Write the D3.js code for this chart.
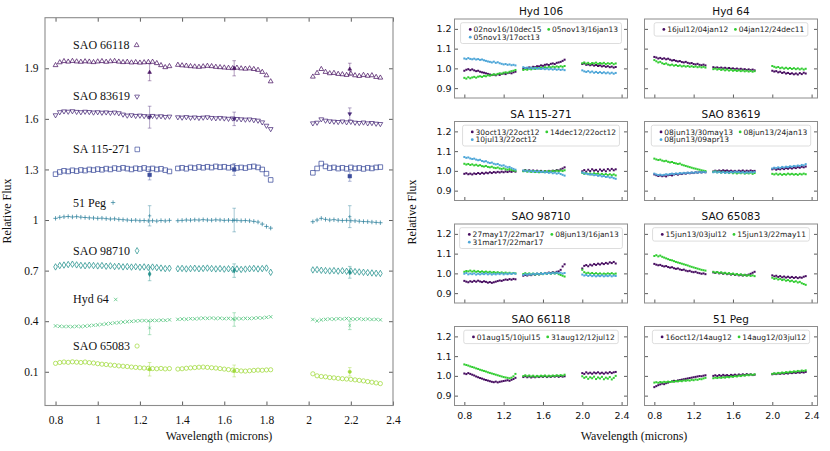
<!DOCTYPE html>
<html>
<head>
<meta charset="utf-8">
<script src="https://cdn.jsdelivr.net/npm/d3@7"></script>
<style>
  body { margin: 0; background: #fff; }
  svg { display: block; }
  .serif { font-family: "Liberation Serif", "Times New Roman", "DejaVu Serif", serif; }
  .sans { font-family: "DejaVu Sans", Verdana, sans-serif; }
</style>
</head>
<body>
<svg width="830" height="451"></svg>
<script>
// ---------- left panel: offset spectra ----------
var waveLeft = [
  0.80,0.82,0.84,0.86,0.88,0.90,0.92,0.94,0.96,0.98,1.00,1.02,1.04,1.06,1.08,1.10,1.12,1.14,1.16,1.18,1.20,1.22,1.24,1.26,1.28,1.30,1.32,1.34,
  1.38,1.40,1.42,1.44,1.46,1.48,1.50,1.52,1.54,1.56,1.58,1.60,1.62,1.64,1.66,1.68,1.70,1.72,1.74,1.76,1.78,1.80,1.82,
  2.02,2.04,2.06,2.08,2.10,2.12,2.14,2.16,2.18,2.20,2.22,2.24,2.26,2.28,2.30,2.32,2.34
];
var starNames = ["SAO 66118", "SAO 83619", "SA 115-271", "51 Peg", "SAO 98710", "Hyd 64", "SAO 65083"];
var labelFlux = [2.013, 1.709, 1.395, 1.08, 0.794, 0.505, 0.229];
var labelWave = 0.883;

var fluxSAO66118 = [1.918,1.935,1.942,1.939,1.943,1.940,1.938,1.941,1.939,1.936,1.940,1.942,1.938,1.941,1.943,1.939,1.936,1.938,1.934,1.936,1.933,1.935,1.937,1.938,1.930,1.918,1.906,1.912,
  1.920,1.917,1.915,1.912,1.910,1.908,1.911,1.914,1.912,1.908,1.906,1.904,1.902,1.900,1.903,1.899,1.897,1.899,1.895,1.890,1.878,1.858,1.822,
  1.850,1.872,1.895,1.878,1.870,1.872,1.866,1.864,1.860,1.868,1.858,1.854,1.860,1.855,1.858,1.848,1.844];
var fluxSAO83619 = [1.622,1.640,1.645,1.643,1.646,1.642,1.640,1.643,1.641,1.638,1.640,1.637,1.639,1.636,1.638,1.634,1.626,1.620,1.622,1.618,1.620,1.617,1.615,1.618,1.614,1.616,1.612,1.614,
  1.610,1.608,1.611,1.607,1.609,1.606,1.608,1.610,1.606,1.604,1.606,1.603,1.601,1.603,1.600,1.598,1.596,1.597,1.593,1.590,1.580,1.560,1.540,
  1.574,1.578,1.598,1.590,1.586,1.584,1.582,1.585,1.580,1.583,1.578,1.576,1.579,1.574,1.576,1.572,1.570];
var fluxSA115 = [1.272,1.285,1.292,1.288,1.295,1.290,1.297,1.293,1.300,1.296,1.302,1.298,1.305,1.300,1.308,1.303,1.310,1.305,1.300,1.307,1.303,1.309,1.302,1.306,1.300,1.304,1.296,1.288,
  1.306,1.310,1.304,1.312,1.308,1.315,1.310,1.316,1.311,1.318,1.313,1.316,1.310,1.314,1.309,1.312,1.308,1.315,1.318,1.312,1.300,1.275,1.238,
  1.280,1.306,1.335,1.318,1.308,1.312,1.305,1.310,1.304,1.312,1.306,1.309,1.303,1.310,1.306,1.312,1.314];
var flux51Peg = [1.010,1.016,1.019,1.021,1.018,1.020,1.017,1.015,1.013,1.012,1.010,1.011,1.008,1.006,1.007,1.004,1.002,1.000,0.998,0.999,0.996,0.997,0.995,0.996,0.994,0.997,0.995,0.998,
  0.996,0.998,1.000,0.999,1.001,1.000,1.002,1.000,0.999,1.001,1.000,0.998,0.999,0.997,0.998,0.996,0.997,0.995,0.992,0.988,0.976,0.962,0.952,
  0.990,1.000,1.010,1.004,1.000,1.002,0.999,0.997,0.998,0.996,0.995,0.993,0.991,0.990,0.988,0.986,0.984];
var fluxSAO98710 = [0.722,0.730,0.733,0.736,0.738,0.734,0.731,0.729,0.732,0.730,0.728,0.730,0.726,0.728,0.724,0.726,0.722,0.724,0.721,0.723,0.720,0.722,0.719,0.721,0.718,0.715,0.712,0.714,
  0.711,0.713,0.710,0.712,0.714,0.711,0.713,0.715,0.712,0.710,0.712,0.709,0.711,0.708,0.710,0.707,0.709,0.711,0.713,0.710,0.712,0.715,0.690,
  0.704,0.706,0.702,0.700,0.698,0.700,0.697,0.699,0.696,0.698,0.694,0.692,0.690,0.688,0.686,0.684,0.683];
var fluxHyd64 = [0.372,0.370,0.368,0.369,0.367,0.370,0.368,0.371,0.373,0.376,0.378,0.381,0.384,0.387,0.390,0.392,0.395,0.397,0.399,0.401,0.403,0.404,0.402,0.405,0.404,0.406,0.405,0.408,
  0.411,0.413,0.412,0.415,0.414,0.416,0.418,0.417,0.419,0.416,0.418,0.415,0.417,0.414,0.416,0.415,0.417,0.416,0.418,0.420,0.419,0.423,0.426,
  0.410,0.402,0.408,0.411,0.413,0.412,0.415,0.413,0.416,0.414,0.412,0.414,0.411,0.413,0.410,0.411,0.408];
var fluxSAO65083 = [0.150,0.155,0.158,0.156,0.159,0.157,0.155,0.158,0.154,0.152,0.148,0.145,0.143,0.140,0.138,0.135,0.133,0.131,0.128,0.126,0.124,0.122,0.121,0.119,0.118,0.120,0.117,0.119,
  0.116,0.118,0.121,0.123,0.125,0.127,0.128,0.126,0.124,0.122,0.119,0.116,0.113,0.110,0.108,0.105,0.104,0.106,0.108,0.110,0.109,0.111,0.112,
  0.088,0.076,0.072,0.070,0.066,0.064,0.061,0.059,0.057,0.055,0.052,0.049,0.046,0.042,0.038,0.034,0.030];

// error-bar samples: wavelengths, then value and half-size per star
var errWave = [1.246, 1.647, 2.195];
var errFlux = [[1.876,1.900,1.895],[1.610,1.600,1.630],[1.268,1.300,1.260],[1.025,1.000,1.020],[0.680,0.700,0.690],[0.360,0.410,0.375],[0.115,0.105,0.100]];
var errSize = [[0.050,0.045,0.035],[0.065,0.040,0.035],[0.030,0.035,0.030],[0.060,0.070,0.065],[0.040,0.040,0.035],[0.040,0.040,0.025],[0.040,0.035,0.025]];

var xTicksLeft = [0.8,1.0,1.2,1.4,1.6,1.8,2.0,2.2,2.4];
var yTicksLeft = [0.1,0.4,0.7,1.0,1.3,1.6,1.9];

// ---------- right panels: ratio spectra ----------
var waveRight = [
  0.80,0.82,0.84,0.86,0.88,0.90,0.92,0.94,0.96,0.98,1.00,1.02,1.04,1.06,1.08,1.10,1.12,1.14,1.16,1.18,1.20,1.22,1.24,1.26,1.28,1.30,1.32,
  1.40,1.42,1.44,1.46,1.48,1.50,1.52,1.54,1.56,1.58,1.60,1.62,1.64,1.66,1.68,1.70,1.72,1.74,1.76,1.78,1.80,1.82,
  2.00,2.02,2.04,2.06,2.08,2.10,2.12,2.14,2.16,2.18,2.20,2.22,2.24,2.26,2.28,2.30,2.32,2.34
];
var panelTitles = ["Hyd 106", "Hyd 64", "SA 115-271", "SAO 83619", "SAO 98710", "SAO 65083", "SAO 66118", "51 Peg"];
var panelLabels = [
  ["02nov16/10dec15", "05nov13/16jan13", "05nov13/17oct13"],
  ["16jul12/04jan12", "04jan12/24dec11"],
  ["30oct13/22oct12", "14dec12/22oct12", "10jul13/22oct12"],
  ["08jun13/30may13", "08jun13/24jan13", "08jun13/09apr13"],
  ["27may17/22mar17", "08jun13/16jan13", "31mar17/22mar17"],
  ["15jun13/03jul12", "15jun13/22may11"],
  ["01aug15/10jul15", "31aug12/12jul12"],
  ["16oct12/14aug12", "14aug12/03jul12"]
];

var hyd106P = [0.988,0.993,0.996,0.991,0.995,0.990,0.986,0.988,0.983,0.980,0.978,0.975,0.972,0.969,0.966,0.968,0.965,0.970,0.967,0.972,0.974,0.971,0.976,0.978,0.975,0.980,0.983,
  0.998,1.002,1.000,1.005,1.003,1.008,1.006,1.011,1.010,1.015,1.013,1.018,1.020,1.017,1.023,1.025,1.022,1.028,1.030,1.033,1.038,1.044,
  1.022,1.025,1.018,1.020,1.016,1.019,1.014,1.017,1.012,1.015,1.010,1.013,1.008,1.011,1.006,1.009,1.004,1.007];
var hyd106G = [0.952,0.948,0.955,0.950,0.954,0.957,0.953,0.958,0.960,0.957,0.962,0.960,0.965,0.963,0.967,0.970,0.968,0.972,0.975,0.973,0.978,0.980,0.978,0.983,0.986,0.988,0.992,
  0.992,0.996,0.993,0.998,0.995,1.000,0.997,1.002,0.999,1.004,1.001,1.006,1.003,1.008,1.005,1.009,1.006,1.010,1.007,1.011,1.008,1.012,
  1.026,1.030,1.024,1.028,1.022,1.027,1.025,1.029,1.023,1.027,1.024,1.028,1.022,1.026,1.023,1.027,1.021,1.025];
var hyd106B = [1.050,1.047,1.052,1.048,1.046,1.049,1.045,1.047,1.043,1.045,1.041,1.038,1.035,1.033,1.030,1.034,1.028,1.031,1.026,1.023,1.020,1.022,1.018,1.020,1.016,1.018,1.015,
  1.006,1.002,1.004,1.000,1.003,0.999,1.002,0.998,1.001,0.997,1.000,0.996,0.999,0.995,0.998,0.994,0.997,0.993,0.996,0.992,0.995,0.991,
  0.990,0.985,0.982,0.986,0.980,0.984,0.978,0.982,0.977,0.981,0.976,0.980,0.975,0.979,0.974,0.978,0.973,0.977];
var hyd64P = [1.058,1.055,1.050,1.053,1.048,1.051,1.046,1.049,1.044,1.040,1.042,1.038,1.035,1.037,1.032,1.030,1.033,1.028,1.025,1.027,1.022,1.020,1.023,1.018,1.016,1.019,1.015,
  1.006,1.003,1.005,1.001,1.004,1.000,1.003,0.999,1.002,0.998,1.000,0.996,0.999,0.995,0.998,0.994,0.996,0.992,0.995,0.991,0.994,0.990,
  0.988,0.984,0.986,0.980,0.983,0.977,0.980,0.974,0.977,0.972,0.975,0.970,0.974,0.969,0.976,0.971,0.978,0.974];
var hyd64G = [1.042,1.036,1.030,1.033,1.026,1.022,1.025,1.019,1.016,1.019,1.014,1.017,1.012,1.015,1.010,1.013,1.009,1.012,1.008,1.011,1.007,1.010,1.006,1.009,1.005,1.008,1.004,
  0.996,0.999,0.994,0.997,0.992,0.995,0.990,0.994,0.989,0.993,0.988,0.991,0.987,0.990,0.986,0.989,0.985,0.988,0.984,0.987,0.983,0.986,
  1.012,1.008,1.004,1.007,1.001,1.004,0.999,1.003,0.998,1.002,0.997,1.001,0.996,1.000,0.995,0.999,0.994,0.998];
var sa115P = [0.985,0.988,0.983,0.986,0.982,0.987,0.984,0.989,0.985,0.990,0.986,0.991,0.988,0.993,0.989,0.994,0.991,0.995,0.992,0.996,0.993,0.997,0.994,0.998,0.995,0.999,0.996,
  1.000,1.004,0.999,1.003,0.998,1.002,0.997,1.001,0.996,1.000,0.995,0.999,0.996,1.000,0.997,1.001,0.999,1.004,1.002,1.008,1.012,1.018,
  0.998,1.004,0.996,1.006,0.999,1.008,1.001,1.005,0.997,1.007,1.000,1.006,0.998,1.009,1.002,1.010,1.003,1.008];
var sa115G = [1.036,1.032,1.035,1.030,1.033,1.028,1.031,1.026,1.029,1.024,1.022,1.025,1.020,1.018,1.021,1.016,1.014,1.017,1.012,1.010,1.013,1.008,1.006,1.009,1.004,1.002,1.000,
  0.998,1.002,0.996,1.000,0.995,0.999,0.994,0.998,0.993,0.997,0.994,0.998,0.995,0.999,0.996,1.000,0.997,1.001,0.998,1.002,0.999,1.003,
  0.990,0.985,0.989,0.983,0.987,0.982,0.988,0.984,0.986,0.981,0.985,0.980,0.984,0.979,0.983,0.978,0.982,0.977];
var sa115B = [1.070,1.066,1.068,1.063,1.060,1.062,1.057,1.054,1.056,1.050,1.047,1.049,1.043,1.040,1.042,1.036,1.033,1.035,1.029,1.026,1.028,1.022,1.018,1.020,1.014,1.010,1.006,
  1.002,0.999,1.001,0.997,1.000,0.996,0.999,0.995,0.998,0.994,0.996,0.992,0.995,0.990,0.993,0.988,0.991,0.986,0.989,0.984,0.980,0.976,
  0.992,0.988,0.986,0.984,0.981,0.983,0.978,0.980,0.975,0.977,0.972,0.974,0.969,0.971,0.966,0.968,0.963,0.960];
var sao83619P = [0.982,0.978,0.974,0.977,0.973,0.976,0.972,0.978,0.980,0.977,0.982,0.984,0.981,0.986,0.984,0.988,0.986,0.990,0.988,0.991,0.989,0.993,0.991,0.994,0.992,0.995,0.993,
  0.997,1.001,0.998,1.002,0.999,1.003,1.000,1.002,0.998,1.001,0.997,1.000,0.996,1.001,0.998,1.002,0.997,1.001,0.998,1.002,0.999,1.000,
  1.008,1.012,1.006,1.010,1.008,1.013,1.009,1.014,1.011,1.016,1.012,1.017,1.014,1.019,1.016,1.021,1.018,1.022];
var sao83619G = [1.062,1.058,1.055,1.057,1.052,1.049,1.051,1.046,1.043,1.045,1.040,1.038,1.035,1.037,1.031,1.028,1.025,1.022,1.019,1.016,1.013,1.011,1.008,1.006,1.003,1.001,0.999,
  0.995,0.998,0.993,0.996,0.991,0.995,0.990,0.994,0.989,0.993,0.988,0.992,0.987,0.991,0.988,0.992,0.986,0.990,0.987,0.991,0.985,0.989,
  0.985,0.982,0.986,0.981,0.985,0.980,0.984,0.981,0.986,0.982,0.985,0.981,0.984,0.980,0.985,0.982,0.986,0.983];
var sao83619B = [0.986,0.982,0.979,0.981,0.978,0.980,0.983,0.981,0.984,0.986,0.983,0.987,0.985,0.989,0.987,0.990,0.988,0.991,0.989,0.992,0.990,0.993,0.991,0.994,0.992,0.995,0.993,
  0.993,0.996,0.992,0.995,0.991,0.994,0.990,0.993,0.991,0.995,0.992,0.996,0.993,0.995,0.991,0.994,0.990,0.993,0.991,0.994,0.992,0.995,
  1.012,1.016,1.014,1.018,1.015,1.020,1.017,1.021,1.019,1.023,1.021,1.025,1.023,1.027,1.025,1.030,1.028,1.034];
var sao98710P = [0.962,0.958,0.955,0.960,0.957,0.962,0.958,0.963,0.959,0.956,0.960,0.957,0.953,0.956,0.952,0.955,0.958,0.961,0.964,0.962,0.966,0.969,0.967,0.971,0.968,0.972,0.970,
  0.988,0.992,0.989,0.994,0.991,0.996,0.993,0.998,0.995,1.000,0.997,1.002,0.999,1.004,1.001,1.006,1.003,1.008,1.010,1.018,1.035,1.046,
  1.025,1.038,1.042,1.036,1.044,1.040,1.047,1.043,1.049,1.045,1.051,1.047,1.053,1.049,1.056,1.052,1.058,1.050];
var sao98710G = [1.008,1.012,1.010,1.014,1.009,1.013,1.008,1.011,1.007,1.010,1.006,1.009,1.005,1.008,1.004,1.007,1.003,1.006,1.002,1.005,1.001,1.004,1.000,1.003,0.999,1.002,1.000,
  0.997,1.001,0.996,1.000,0.995,0.999,0.994,0.998,0.995,1.000,0.996,1.001,0.997,1.002,0.998,1.003,0.999,1.002,0.996,0.992,0.988,0.984,
  1.018,1.006,1.000,1.003,0.998,1.002,0.997,1.001,0.996,1.000,0.995,0.999,0.996,1.000,0.997,1.001,0.996,0.999];
var sao98710B = [0.998,1.002,0.995,0.999,0.996,1.000,0.994,0.998,0.995,0.999,0.996,1.000,0.995,0.999,0.994,0.998,0.995,0.999,0.996,1.000,0.995,0.999,0.996,1.000,0.997,1.001,0.998,
  0.992,0.996,0.993,0.997,0.994,0.998,0.995,0.999,0.996,1.000,0.997,1.001,0.998,1.002,0.999,1.003,1.000,1.004,1.001,1.003,0.999,1.002,
  0.994,0.989,0.992,0.987,0.991,0.986,0.990,0.985,0.989,0.986,0.990,0.985,0.989,0.986,0.990,0.985,0.989,0.987];
var sao65083P = [1.048,1.044,1.041,1.043,1.038,1.035,1.037,1.032,1.029,1.031,1.026,1.023,1.025,1.020,1.017,1.019,1.014,1.011,1.013,1.008,1.006,1.008,1.003,1.001,0.998,1.000,0.996,
  1.005,1.002,1.006,1.000,1.003,0.998,1.001,0.996,0.999,0.994,0.997,0.992,0.995,0.990,0.993,0.989,0.992,0.990,0.994,0.998,1.003,1.008,
  0.990,0.985,0.988,0.982,0.986,0.980,0.984,0.979,0.983,0.978,0.982,0.977,0.981,0.976,0.980,0.978,0.983,0.986];
var sao65083G = [1.088,1.092,1.086,1.090,1.084,1.080,1.076,1.072,1.068,1.066,1.062,1.058,1.055,1.052,1.049,1.046,1.043,1.040,1.036,1.033,1.030,1.027,1.024,1.021,1.018,1.016,1.014,
  1.008,1.004,1.007,1.002,1.005,1.000,1.003,0.998,1.001,0.996,0.999,0.994,0.997,0.992,0.995,0.990,0.993,0.988,0.991,0.987,0.990,0.986,
  0.978,0.972,0.975,0.969,0.972,0.966,0.969,0.963,0.966,0.960,0.963,0.957,0.960,0.954,0.957,0.950,0.946,0.942];
var sao66118P = [1.012,1.009,1.014,1.010,1.006,1.002,0.997,0.993,0.989,0.986,0.982,0.979,0.976,0.973,0.970,0.968,0.971,0.967,0.970,0.972,0.974,0.976,0.978,0.975,0.980,0.984,0.990,
  0.994,0.998,0.993,0.997,0.992,0.996,0.993,0.997,0.994,0.998,0.995,0.999,0.994,0.998,0.995,0.999,0.996,1.000,0.995,0.999,0.996,0.998,
  1.014,1.010,1.018,1.012,1.016,1.011,1.017,1.013,1.018,1.012,1.016,1.011,1.017,1.013,1.019,1.014,1.018,1.020];
var sao66118G = [1.058,1.055,1.052,1.048,1.045,1.042,1.038,1.035,1.031,1.028,1.025,1.022,1.018,1.015,1.012,1.009,1.006,1.003,1.000,0.997,0.994,0.992,0.990,0.988,0.991,0.998,1.010,
  0.999,1.003,0.998,1.002,0.997,1.001,0.996,1.000,0.997,1.001,0.998,1.002,0.997,1.001,0.998,1.002,0.999,1.003,1.000,1.004,1.001,1.006,
  0.998,0.990,0.995,0.985,0.993,0.988,0.996,0.984,0.992,0.987,0.995,0.983,0.991,0.986,0.994,0.982,0.990,1.000];
var peg51P = [0.943,0.948,0.953,0.957,0.961,0.958,0.963,0.966,0.969,0.972,0.975,0.973,0.977,0.979,0.981,0.983,0.985,0.987,0.989,0.991,0.993,0.995,0.997,0.999,0.998,1.001,1.003,
  1.000,1.003,0.999,1.004,1.000,1.005,1.001,1.004,1.000,1.005,1.002,1.006,1.002,1.007,1.003,1.008,1.004,1.009,1.005,1.008,1.004,1.006,
  1.008,1.011,1.009,1.012,1.010,1.013,1.011,1.014,1.012,1.016,1.014,1.017,1.015,1.018,1.016,1.019,1.017,1.020];
var peg51G = [0.966,0.968,0.965,0.969,0.967,0.970,0.968,0.971,0.969,0.972,0.970,0.974,0.972,0.975,0.973,0.977,0.975,0.978,0.976,0.980,0.978,0.982,0.980,0.984,0.983,0.987,0.990,
  0.988,0.991,0.989,0.992,0.990,0.993,0.991,0.995,0.993,0.997,0.995,0.999,0.997,1.001,0.999,1.003,1.001,1.005,1.003,1.007,1.005,1.008,
  1.010,1.013,1.011,1.015,1.013,1.017,1.015,1.019,1.017,1.021,1.019,1.023,1.021,1.025,1.023,1.027,1.025,1.028];

var xTicksRight = [0.8,1.2,1.6,2.0,2.4];
var yTicksRight = [0.9,1.0,1.1,1.2];

// ---------- drawing ----------
var svg = d3.select('svg');

var starColors = ['#4b1664', '#482a78', '#3d4d9c', '#2b7f9b', '#23908c', '#43bf71', '#9fd93a'];
var starFlux = [fluxSAO66118, fluxSAO83619, fluxSA115, flux51Peg, fluxSAO98710, fluxHyd64, fluxSAO65083];

// marker shapes, in two sizes: spectrum points and the small filled error points
function shapeSet(scale) {
  var tri = d3.symbol(d3.symbolTriangle, 10 * scale)();
  var p = 2.2 * Math.sqrt(scale), q = 1.7 * Math.sqrt(scale);
  return [
    tri,
    tri,
    d3.symbol(d3.symbolSquare, 21 * scale)(),
    'M' + (-p) + ',0H' + p + 'M0,' + (-p) + 'V' + p,
    d3.symbol(d3.symbolDiamond, 12 * scale)(),
    'M' + (-q) + ',' + (-q) + 'L' + q + ',' + q + 'M' + (-q) + ',' + q + 'L' + q + ',' + (-q),
    d3.symbol(d3.symbolCircle, 14 * scale)()
  ];
}
var shapes = shapeSet(1);
var shapesSmall = shapeSet(0.6);
function place(x, y, k) {
  return 'translate(' + x + ',' + y + ')' + (k === 1 ? ' rotate(180)' : '');
}

var xL = d3.scaleLinear().domain([0.75, 2.4]).range([45, 393]);
var yL = d3.scaleLinear().domain([-0.1, 2.2]).range([405.5, 17.7]);

var gL = svg.append('g');

function styleAxis(sel, cls, size) {
  sel.attr('font-family', null);
  sel.select('.domain').remove();
  sel.selectAll('.tick line').attr('stroke', '#333').attr('stroke-width', 0.8);
  sel.selectAll('.tick text').attr('class', cls).attr('fill', '#111').attr('font-size', size);
}

var fmtL = function(d) { return String(+d.toFixed(1)); };
gL.append('g').attr('transform', 'translate(0,405.5)')
  .call(d3.axisBottom(xL).tickValues(xTicksLeft).tickSize(-4).tickPadding(10).tickFormat(fmtL))
  .call(styleAxis, 'serif', 11.5);
gL.append('g').attr('transform', 'translate(0,17.7)')
  .call(d3.axisTop(xL).tickValues(xTicksLeft).tickSize(-4).tickFormat(''))
  .call(styleAxis, 'serif', 11.5);
gL.append('g').attr('transform', 'translate(45,0)')
  .call(d3.axisLeft(yL).tickValues(yTicksLeft).tickSize(-4).tickPadding(6.5).tickFormat(fmtL))
  .call(styleAxis, 'serif', 11.5);
gL.append('g').attr('transform', 'translate(393,0)')
  .call(d3.axisRight(yL).tickValues(yTicksLeft).tickSize(-4).tickFormat(''))
  .call(styleAxis, 'serif', 11.5);

gL.append('rect')
  .attr('x', xL(0.75)).attr('y', yL(2.2))
  .attr('width', xL(2.4) - xL(0.75)).attr('height', yL(-0.1) - yL(2.2))
  .attr('fill', 'none').attr('stroke', '#8c8c8c').attr('stroke-width', 1.1);

starFlux.forEach(function(flux, k) {
  var col = starColors[k];
  var g = gL.append('g');
  g.selectAll('path.pt')
    .data(waveLeft.map(function(w, j) { return [w, flux[j]]; }))
    .enter().append('path')
    .classed('pt', true)
    .attr('d', shapes[k])
    .attr('transform', function(d) { return place(xL(d[0]), yL(d[1]), k); })
    .attr('fill', 'none')
    .attr('stroke', col)
    .attr('stroke-width', 0.75);

  // error bars
  errWave.forEach(function(w, e) {
    var v = errFlux[k][e], s = errSize[k][e];
    var cx = xL(w);
    g.append('line').attr('x1', cx).attr('x2', cx).attr('y1', yL(v - s)).attr('y2', yL(v + s))
      .attr('stroke', col).attr('stroke-width', 0.6).attr('stroke-opacity', 0.7);
    [v - s, v + s].forEach(function(c) {
      g.append('line').attr('x1', cx - 1.8).attr('x2', cx + 1.8).attr('y1', yL(c)).attr('y2', yL(c))
        .attr('stroke', col).attr('stroke-width', 0.6).attr('stroke-opacity', 0.7);
    });
    g.append('path').attr('d', shapesSmall[k]).attr('transform', place(cx, yL(v), k))
      .attr('fill', col).attr('stroke', col).attr('stroke-width', 0.6);
  });

  // star name + marker key
  var t = gL.append('text')
    .attr('class', 'serif')
    .attr('x', xL(labelWave)).attr('y', yL(labelFlux[k]))
    .attr('font-size', 12).attr('fill', '#111')
    .text(starNames[k]);
  var tw = t.node().getComputedTextLength();
  gL.append('path').attr('d', shapes[k])
    .attr('transform', place(xL(labelWave) + tw + 7, yL(labelFlux[k]) - 4, k))
    .attr('fill', 'none').attr('stroke', col).attr('stroke-width', 0.7);
});

gL.append('text')
  .attr('class', 'serif')
  .attr('x', 219).attr('y', 440)
  .attr('text-anchor', 'middle')
  .attr('font-size', 12).attr('fill', '#111')
  .text('Wavelength (microns)');
gL.append('text')
  .attr('class', 'serif')
  .attr('transform', 'translate(11,211) rotate(-90)')
  .attr('text-anchor', 'middle')
  .attr('font-size', 12).attr('fill', '#111')
  .text('Relative Flux');

// right grid
var seriesColors = ['#470d60', '#32cd32', '#4ea6d8'];
var panelSeries = [
  [hyd106P, hyd106G, hyd106B],
  [hyd64P, hyd64G],
  [sa115P, sa115G, sa115B],
  [sao83619P, sao83619G, sao83619B],
  [sao98710P, sao98710G, sao98710B],
  [sao65083P, sao65083G],
  [sao66118P, sao66118G],
  [peg51P, peg51G]
];
var colX = [454.5, 644.5], rowY = [19, 121.5, 224, 326.5];
var pW = 173, pH = 79;
var fmtR = function(d) { return d.toFixed(1); };

function measure(str, size) {
  var t = svg.append('text').attr('class', 'sans').attr('font-size', size).text(str);
  var w = t.node().getComputedTextLength();
  t.remove();
  return w;
}

function drawLegend(g, cx, top, labels) {
  var fs = 7.5;
  var w = labels.map(function(s) { return measure(s, fs); });
  var c0 = labels.length > 2 ? Math.max(w[0], w[2]) : w[0];
  var inner = 6.5 + c0 + 4 + 6.5 + w[1];
  var boxW = inner + 10;
  var rows = labels.length > 2 ? 2 : 1;
  var boxH = rows === 2 ? 20.8 : 13.4;
  var left = cx - boxW / 2;
  g.append('rect').attr('x', left).attr('y', top).attr('width', boxW).attr('height', boxH)
    .attr('rx', 2).attr('fill', '#fff').attr('fill-opacity', 0.85)
    .attr('stroke', '#d4d4d4').attr('stroke-width', 0.8);
  var colStart = [left + 6.5, left + 6.5 + c0 + 4 + 6.5];
  var cells = [[0, 0], [1, 0], [0, 1]];
  labels.forEach(function(lab, i) {
    var cs = colStart[cells[i][0]];
    var cy = top + 6.7 + cells[i][1] * 7.8;
    g.append('circle').attr('cx', cs + 3.2).attr('cy', cy).attr('r', 1.4).attr('fill', seriesColors[i]);
    g.append('text').attr('class', 'sans').attr('x', cs + 6.5).attr('y', cy).attr('dy', '0.35em')
      .attr('font-size', fs).attr('fill', '#222').text(lab);
  });
}

panelTitles.forEach(function(title, i) {
  var px = colX[i % 2], py = rowY[Math.floor(i / 2)];
  var x = d3.scaleLinear().domain([0.7, 2.46]).range([px, px + pW]);
  var y = d3.scaleLinear().domain([0.85, 1.25]).range([py + pH, py]);
  var g = svg.append('g');
  var bottomRow = i >= 6;

  g.append('g').attr('transform', 'translate(0,' + (py + pH) + ')')
    .call(d3.axisBottom(x).tickValues(xTicksRight).tickSize(-3.5).tickPadding(7)
      .tickFormat(bottomRow ? fmtR : ''))
    .call(styleAxis, 'sans', 9.5);
  g.append('g').attr('transform', 'translate(' + px + ',0)')
    .call(d3.axisLeft(y).tickValues(yTicksRight).tickSize(-3.5).tickPadding(3)
      .tickFormat(i % 2 === 0 ? fmtR : ''))
    .call(styleAxis, 'sans', 9.5);
  g.append('g').attr('transform', 'translate(' + (px + pW) + ',0)')
    .call(d3.axisRight(y).tickValues(yTicksRight).tickSize(-3.5).tickFormat(''))
    .call(styleAxis, 'sans', 9.5);

  g.append('rect').attr('x', px).attr('y', py).attr('width', pW).attr('height', pH)
    .attr('fill', 'none').attr('stroke', '#8c8c8c').attr('stroke-width', 1);

  panelSeries[i].forEach(function(vals, s) {
    g.append('g').selectAll('rect')
      .data(waveRight.map(function(w, j) { return [w, vals[j]]; }))
      .enter().append('rect')
      .attr('x', function(d) { return x(d[0]) - 1; })
      .attr('y', function(d) { return y(d[1]) - 1; })
      .attr('width', 2).attr('height', 2)
      .attr('fill', seriesColors[s]);
  });

  drawLegend(g, px + pW / 2, py + 3.7, panelLabels[i]);

  g.append('text').attr('class', 'sans').attr('x', px + pW / 2).attr('y', py - 4)
    .attr('text-anchor', 'middle').attr('font-size', 10.5).attr('fill', '#111')
    .text(title);
});

svg.append('text')
  .attr('class', 'serif')
  .attr('x', 634).attr('y', 440)
  .attr('text-anchor', 'middle')
  .attr('font-size', 12).attr('fill', '#111')
  .text('Wavelength (microns)');
svg.append('text')
  .attr('class', 'serif')
  .attr('transform', 'translate(416,212) rotate(-90)')
  .attr('text-anchor', 'middle')
  .attr('font-size', 12).attr('fill', '#111')
  .text('Relative Flux');
</script>
</body>
</html>
